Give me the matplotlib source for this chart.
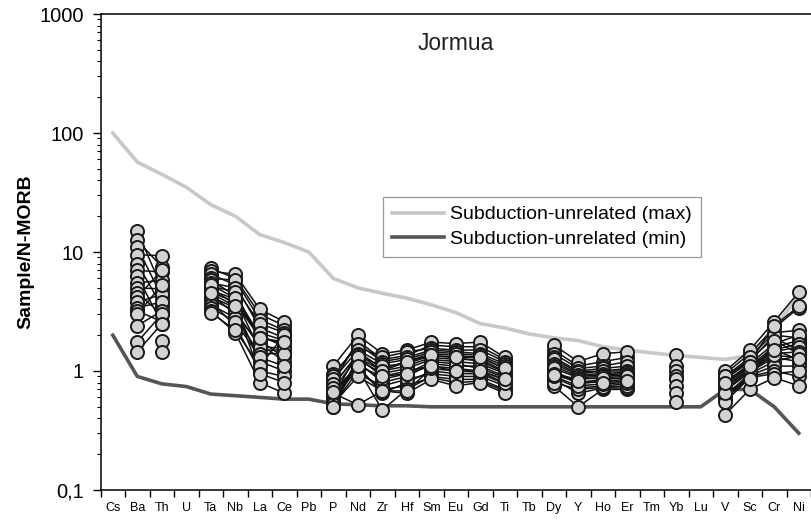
import numpy as np
import matplotlib.pyplot as plt
from matplotlib.ticker import LogLocator, NullFormatter

nan = np.nan

# element order on the x axis
elements = ['Cs', 'Ba', 'Th', 'U', 'Ta', 'Nb', 'La', 'Ce', 'Pb', 'P', 'Nd', 'Zr', 'Hf',
            'Sm', 'Eu', 'Gd', 'Ti', 'Tb', 'Dy', 'Y', 'Ho', 'Er', 'Tm', 'Yb', 'Lu',
            'V', 'Sc', 'Cr', 'Ni']

# reference envelopes
max_ref = [100, 57, 45, 35, 25, 20, 14, 12, 10, 6.0, 5.0, 4.5, 4.1, 3.6, 3.1, 2.5, 2.3,
           2.05, 1.9, 1.8, 1.6, 1.5, 1.42, 1.35, 1.3, 1.25, 1.35, 2.3, 4.3]
min_ref = [2.0, 0.9, 0.78, 0.74, 0.64, 0.62, 0.6, 0.58, 0.58, 0.53, 0.52, 0.51, 0.51,
           0.5, 0.5, 0.5, 0.5, 0.5, 0.5, 0.5, 0.5, 0.5, 0.5, 0.5, 0.5, 0.7, 0.7, 0.5, 0.3]

# Jormua samples, one value per sample for each element (nan = not analysed)
ba = [15, 12.5, 11, 9.5, 8, 7, 6.3, 5.5, 5, 4.5, 4.2, 3.8, 3.4, 3.2, 3.0, 2.4, 1.75, 1.45, nan, nan]
th = [5.0, 7.5, 4.2, 9.3, 3.5, 6.8, 2.5, 5.8, 4.9, 3.0, 7.0, 4.4, 3.8, 2.6, 5.3, 3.2, 3.0, 2.5, 1.8, 1.45]
ta = [7.3, 6.9, 6.5, 6.0, 5.8, 5.5, 5.2, 5.0, 4.8, 4.6, 4.4, 4.2, 4.0, 3.8, 3.6, 3.4, 3.2, 3.1, 5.3, 4.5]
nb = [6.0, 6.5, 5.3, 5.8, 4.3, 5.0, 4.6, 3.6, 4.0, 3.8, 3.0, 3.4, 3.2, 2.4, 2.8, 2.6, 2.1, 2.2, 4.1, 3.5]
la = [3.0, 3.3, 2.3, 2.7, 2.0, 2.5, 1.8, 2.1, 1.5, 1.9, 1.7, 1.2, 1.6, 1.0, 1.4, 1.3, 0.8, 1.1, 1.9, 0.95]
ce = [2.4, 2.6, 1.9, 2.2, 1.6, 2.1, 1.3, 1.8, 1.5, 1.7, 1.2, 1.0, 1.55, 0.9, 1.4, 1.1, 0.65, 2.0, 1.75, 0.8]
p = [0.8, 1.1, 0.7, 0.95, 0.6, 0.9, 0.52, 0.85, 0.75, 0.5, 0.78, 0.68, 0.55, 0.72, 0.62, 0.58, 0.65, 0.53, 0.5, 0.66]
nd = [1.8, 2.0, 1.3, 1.6, 1.45, 1.7, 1.0, 1.5, 1.4, 1.2, 1.35, 1.1, 1.25, 0.95, 1.15, 1.05, 0.52, 0.9, 1.3, 1.1]
zr = [1.25, 1.4, 0.9, 1.3, 1.05, 1.2, 0.7, 1.15, 1.0, 0.8, 1.1, 0.65, 0.95, 0.75, 0.85, 0.47, 0.68, 0.68, 1.0, 0.9]
hf = [1.35, 1.5, 1.0, 1.45, 1.2, 1.3, 0.75, 1.25, 1.1, 0.9, 1.15, 0.8, 1.05, 0.85, 0.95, 0.7, 0.65, 0.68, 1.2, 0.95]
sm = [1.65, 1.75, 1.1, 1.55, 1.4, 1.5, 0.88, 1.45, 1.3, 1.15, 1.35, 1.0, 1.25, 0.95, 1.2, 0.9, 0.85, 1.05, 1.35, 1.1]
eu = [1.6, 1.7, 1.05, 1.5, 1.35, 1.45, 0.8, 1.4, 1.25, 1.1, 1.3, 0.95, 1.2, 0.9, 1.15, 0.85, 0.75, 1.0, 1.3, 1.0]
gd = [1.6, 1.75, 1.0, 1.5, 1.3, 1.4, 0.82, 1.35, 1.25, 1.1, 1.2, 0.95, 1.15, 0.9, 1.05, 0.85, 0.8, 0.98, 1.3, 1.0]
ti = [1.25, 1.3, 0.85, 1.2, 1.05, 1.15, 0.68, 1.1, 1.0, 0.9, 0.98, 0.78, 0.95, 0.75, 0.88, 0.7, 0.65, 0.8, 1.05, 0.85]
dy = [1.5, 1.65, 1.0, 1.4, 1.2, 1.3, 0.75, 1.25, 1.15, 0.98, 1.1, 0.88, 1.05, 0.85, 0.95, 0.8, 0.9, 0.92, nan, nan]
y_ = [1.1, 1.2, 0.8, 1.05, 0.95, 1.0, 0.5, 0.98, 0.93, 0.78, 0.9, 0.72, 0.88, 0.65, 0.85, 0.7, 0.75, 0.82, nan, nan]
ho = [1.2, 1.4, 0.85, 1.1, 1.0, 1.05, 0.7, 1.0, 0.95, 0.82, 0.93, 0.75, 0.9, 0.72, 0.88, 0.73, 0.78, 0.8, nan, nan]
er = [1.3, 1.45, 0.88, 1.2, 1.05, 1.1, 0.7, 1.0, 0.98, 0.85, 0.95, 0.78, 0.93, 0.72, 0.9, 0.75, 0.8, 0.82, nan, nan]
yb = [1.35, nan, 1.1, nan, 1.0, nan, 0.9, nan, 0.85, nan, 0.75, nan, 0.65, nan, 0.55, nan, nan, nan, nan, nan]
v = [0.95, 1.0, 0.82, 0.88, 0.9, 0.85, 0.62, 0.8, 0.78, 0.68, 0.75, 0.6, 0.73, 0.58, 0.7, 0.55, 0.43, 0.65, 0.9, 0.8]
sc = [1.4, 1.5, 1.1, 1.25, 1.3, 1.2, 0.95, 1.15, 1.08, 0.98, 1.05, 0.92, 1.02, 0.9, 1.0, 0.88, 0.7, 0.85, 1.2, 1.1]
cr = [2.3, 2.6, 1.6, 1.9, 2.1, 2.0, 1.2, 1.7, 1.5, 1.3, 1.45, 1.1, 1.4, 1.0, 1.35, 0.95, 0.88, 1.8, 2.4, 1.5]
ni = [3.4, 4.6, 1.8, 1.5, 2.2, 1.9, 1.35, 2.0, 1.7, 1.2, 1.6, 1.1, 1.45, 0.9, 1.3, 1.0, 0.75, 1.4, 3.5, 1.25]

n = len(ba)
missing = [nan] * n
columns = [missing, ba, th, missing, ta, nb, la, ce, missing, p, nd, zr, hf,
           sm, eu, gd, ti, missing, dy, y_, ho, er, missing, yb, missing,
           v, sc, cr, ni]
samples = np.array(columns, dtype=float).T  # rows = samples

xpos = np.arange(len(elements))

fig = plt.figure(figsize=(8.11, 5.30), dpi=100)
ax = fig.add_axes([0.124, 0.0755, 0.876, 0.898])

ax.plot(xpos, max_ref, color='#c8c8c8', lw=2.6, zorder=1, label='Subduction-unrelated (max)')
ax.plot(xpos, min_ref, color='#555555', lw=2.6, zorder=1, label='Subduction-unrelated (min)')

# lines first, then markers on top
for row in samples:
    ax.plot(xpos, row, color='#111111', lw=1.1, zorder=2)
for row in samples:
    ax.plot(xpos, row, ls='none', marker='o', ms=9.4, mfc='#d0d2d4',
            mec='#1a1a1a', mew=1.4, zorder=3)

ax.set_yscale('log')
ax.set_ylim(0.1, 1000)
ax.set_xlim(-0.5, len(elements) - 0.5)

ax.set_yticks([0.1, 1, 10, 100, 1000])
ax.set_yticklabels(['0,1', '1', '10', '100', '1000'], fontsize=14.5, family='Liberation Sans')
ax.yaxis.set_minor_locator(LogLocator(base=10, subs=np.arange(2, 10)))
ax.yaxis.set_minor_formatter(NullFormatter())
ax.tick_params(axis='y', which='major', direction='out', length=6, width=1, pad=6)
ax.tick_params(axis='y', which='minor', direction='out', length=3, width=0.8)

# x: ticks between categories, labels at the centres
ax.set_xticks(np.arange(-0.5, len(elements), 1.0))
ax.set_xticklabels([])
ax.set_xticks(xpos, minor=True)
ax.set_xticklabels(elements, minor=True, fontsize=9,
                   family=['Liberation Sans Narrow', 'Liberation Sans'])
ax.tick_params(axis='x', which='major', direction='out', length=5, width=1)
ax.tick_params(axis='x', which='minor', length=0, pad=9)

ax.spines['right'].set_visible(False)
for s in ['left', 'bottom', 'top']:
    ax.spines[s].set_linewidth(1.1)

ax.set_ylabel('Sample/N-MORB', fontsize=14, fontweight='bold', family='Liberation Sans')
ax.yaxis.set_label_coords(-0.093, 0.5)

fig.text(418 / 811, 1 - 43 / 530, 'Jormua', fontsize=16.5, family='Liberation Sans',
         va='center', ha='left', color='#222222')

leg = ax.legend(loc='upper left', bbox_to_anchor=(383 / 811, 1 - 197 / 530),
                bbox_transform=fig.transFigure, borderaxespad=0, fancybox=False,
                framealpha=1, edgecolor='#999999', handlelength=2.7, handletextpad=0.3,
                prop={'family': 'Liberation Sans', 'size': 14}, labelspacing=0.35,
                borderpad=0.45)
leg.get_frame().set_linewidth(0.9)

fig.savefig('out.png', dpi=100)
